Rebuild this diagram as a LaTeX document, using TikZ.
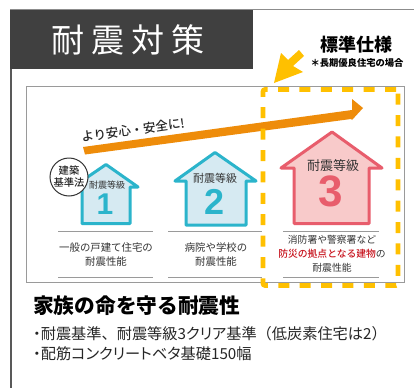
\documentclass[tikz,border=0pt]{standalone}
\usepackage{fontspec}
\setmainfont{Noto Sans CJK JP}
\newfontfamily\jpprop[RawFeature=+palt]{Noto Sans CJK JP}
\newfontfamily\jpfull{Noto Sans CJK JP}
\newfontfamily\jpmed{Noto Sans CJK JP Medium}
\newfontfamily\ltn{Liberation Sans}
\definecolor{frameg}{HTML}{9A9A9A}
\definecolor{darkbar}{HTML}{404040}
\definecolor{gold}{HTML}{FFC000}
\definecolor{arrowor}{HTML}{EE8C0A}
\definecolor{teal}{HTML}{2BB4CB}
\definecolor{tealfill}{HTML}{D6EAF2}
\definecolor{rosek}{HTML}{E85D6C}
\definecolor{rosefill}{HTML}{F8CACA}
\definecolor{txt}{HTML}{333333}
\definecolor{redtxt}{HTML}{C8141E}
\tikzset{
  rule/.style={draw=frameg,line width=1pt},
  tealhouse/.style={draw=teal,fill=tealfill,line width=3pt,line join=round},
  rosehouse/.style={draw=rosek,fill=rosefill,line width=3pt,line join=round},
  gradetxt/.style={inner sep=0pt,text=txt},
  captxt/.style={inner sep=0pt,text=txt,align=center,font=\fontsize{10.4}{13.5}\selectfont},
  bodytxt/.style={inner sep=0pt,anchor=west,text=black!85,font=\jpprop\fontsize{15.2}{18}\selectfont},
}
\begin{document}
\begin{tikzpicture}[x=1pt,y=-1pt]
\useasboundingbox (0,0) rectangle (414,388);
\fill[white] (0,0) rectangle (414,388);
% outer frame
\draw[draw=gray!90,line width=1pt] (10,9.7) -- (414,9.7);
\draw[draw=black!65,line width=2pt] (11,10) -- (11,388);
\fill[darkbar] (10,10) rectangle (253,69);
\node[inner sep=0pt,text=white,font=\fontsize{33}{33}\selectfont] (title) at (128,40) {耐\hspace{7pt}震\hspace{7pt}対\hspace{7pt}策};
% inner frame
\draw[draw=frameg,line width=1pt] (26,86) rectangle (404,282);
% rising arrow
\fill[arrowor] (83,147) -- (352,110) -- (352,99) -- (363,108) -- (352,120) -- (351,119) -- (85,154.5) -- cycle;
\node[rotate=8,inner sep=0pt,text=black!85,font=\jpmed\fontsize{12.5}{12.5}\selectfont] (safer) at (133,130) {より安心・安全に!};
% house 1
\draw[tealhouse] (82,187) -- (73,187) -- (106,164.5) -- (138,187) -- (130,187) -- (130,223.5) -- (82,223.5) -- cycle;
\node[gradetxt,font=\fontsize{9}{9}\selectfont] (g1) at (107,185) {耐震等級};
\node[inner sep=0pt,text=teal,font=\ltn\bfseries\fontsize{30}{30}\selectfont] (n1) at (105,204) {1};
\node[circle,draw=black!80,fill=white,line width=1pt,minimum size=38pt,inner sep=0pt,align=center,text=black!85,font=\jpmed\fontsize{10.3}{12}\selectfont] (law) at (69,177) {建築\\基準法};
% house 2
\draw[tealhouse] (186,181) -- (175,181) -- (215,152.5) -- (256,181) -- (246,181) -- (246,225) -- (186,225) -- cycle;
\node[gradetxt,font=\fontsize{11}{11}\selectfont] (g2) at (215,178) {耐震等級};
\node[inner sep=0pt,text=teal,font=\ltn\bfseries\fontsize{36}{36}\selectfont] (n2) at (215,202) {2};
% house 3
\draw[rosehouse] (294,168) -- (281,168) -- (332,132) -- (382,168) -- (369,168) -- (369,223.5) -- (294,223.5) -- cycle;
\node[gradetxt,font=\fontsize{13}{13}\selectfont] (g3) at (333,166) {耐震等級};
\node[inner sep=0pt,text=rosek,font=\ltn\bfseries\fontsize{44}{44}\selectfont] (n3) at (331,191) {3};
% rules
\draw[rule] (58,231) -- (153,231);
\draw[rule] (58,277) -- (153,277);
\draw[rule] (168,231) -- (262,231);
\draw[rule] (168,277) -- (262,277);
\draw[rule] (283,231) -- (379,231);
\draw[rule] (283,277) -- (379,277);
% captions
\node[captxt] (c1) at (106,254.5) {一般の戸建て住宅の\\耐震性能};
\node[captxt] (c2) at (216,254.5) {病院や学校の\\耐震性能};
\node[captxt,font=\fontsize{9.8}{14}\selectfont] (c3) at (332,254) {消防署や警察署など\\\textcolor{redtxt}{\jpmed 防災の拠点となる建物}の\\耐震性能};
% dashed highlight
\draw[gold,line width=4.6pt,dash pattern=on 11pt off 10.4pt,rounded corners=2pt] (398,89.5) -- (263,89.5) -- (263,285.5) -- (398,285.5) -- cycle;
% pointer arrow
\fill[gold] (274,83) -- (281,53) -- (288,60) -- (299,50) -- (304,56) -- (293,66) -- (303,72) -- cycle;
\node[inner sep=0pt,text=black,font=\bfseries\fontsize{18}{18}\selectfont] (std) at (356,45) {標準仕様};
\node[inner sep=0pt,text=black,font=\bfseries\fontsize{9.3}{9.3}\selectfont] (note) at (357,63) {＊長期優良住宅の場合};
% bottom text
\node[inner sep=0pt,anchor=west,text=black,font=\bfseries\fontsize{20.7}{20.7}\selectfont] (head) at (33,306) {家族の命を守る耐震性};
\node[bodytxt] (l1) at (33,333.5) {・{\jpfull 耐震基準、耐震等級}3クリア{\jpfull 基準（低炭素住宅は}2{\jpfull ）}};
\node[bodytxt] (l2) at (33,353.5) {・配筋コンクリートベタ基礎150幅};
\end{tikzpicture}
\end{document}
